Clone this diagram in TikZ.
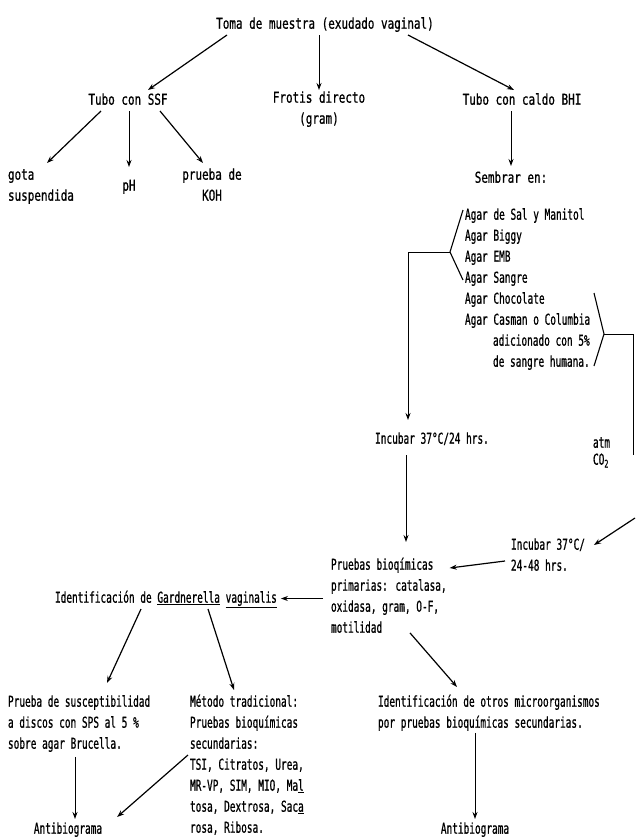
\documentclass[tikz,border=0pt]{standalone}
\usepackage{fontspec}
\newfontfamily\twfont[FakeStretch=0.63,FakeBold=0.8]{DejaVu Sans Mono}
\newfontfamily\twwide[FakeStretch=0.73,FakeBold=0.8]{DejaVu Sans Mono}
\usetikzlibrary{arrows.meta}
\tikzset{
 txt/.style={inner sep=0pt, outer sep=0pt, font=\twfont\fontsize{15}{21}\selectfont},
 wide/.style={font=\twwide\fontsize{15}{21}\selectfont},
 ctr/.style={txt, align=center, anchor=north},
 lft/.style={txt, align=left, anchor=north west},
 arr/.style={line width=1.2pt, -{Stealth[length=7pt,width=5pt]}},
 varr/.style={line width=0.9pt, -{Stealth[length=7pt,width=5pt]}},
 ln/.style={line width=1.1pt},
 vln/.style={line width=0.9pt},
}
\begin{document}
\begin{tikzpicture}[x=1pt,y=-1pt]
\useasboundingbox (0,0) rectangle (635,838);
% nodes
\node[ctr,wide] (toma) at (325,14) {\strut Toma de muestra (exudado vaginal)};
\node[ctr,wide] (ssf) at (128,90) {\strut Tubo con SSF};
\node[ctr,wide] (frotis) at (319,88) {\strut Frotis directo\\(gram)};
\node[ctr,wide] (bhi) at (522,90) {\strut Tubo con caldo BHI};
\node[lft,wide] (gota) at (8,165) {\strut gota\\suspendida};
\node[ctr,wide] (ph) at (129,176) {\strut pH};
\node[ctr,wide] (koh) at (212,165) {\strut prueba de\\KOH};
\node[ctr,wide] (sembrar) at (511,168) {\strut Sembrar en:};
\node[lft] (agar) at (465,205) {\strut Agar de Sal y Manitol\\Agar Biggy\\Agar EMB\\Agar Sangre\\Agar Chocolate\\Agar Casman o Columbia\\\hspace*{28pt}adicionado con 5\%\\\hspace*{28pt}de sangre humana.};
\node[ctr] (inc24) at (432,429) {\strut Incubar 37°C/24 hrs.};
\node[lft] (atm) at (593,433) {\strut atm\\[-4pt]CO\textsubscript{2}};
\node[lft] (inc48) at (511,535) {\strut Incubar 37°C/\\24-48 hrs.};
\node[lft] (pruebas) at (331,555) {\strut Pruebas bioqímicas\\primarias: catalasa,\\oxidasa, gram, O-F,\\motilidad};
\node[lft] (gard) at (55,588) {\strut Identificación de \underline{Gardnerella} \underline{vaginalis}};
\node[lft] (sus) at (8,692) {\strut Prueba de susceptibilidad\\a discos con SPS al 5 \%\\sobre agar Brucella.};
\node[lft] (metodo) at (190,692) {\strut Método tradicional:\\Pruebas bioquímicas\\secundarias:\\TSI, Citratos, Urea,\\MR-VP, SIM, MIO, Ma\underline{l}\\tosa, Dextrosa, Sac\underline{a}\\rosa, Ribosa.};
\node[lft] (otros) at (378,692) {\strut Identificación de otros microorganismos\\por pruebas bioquímicas secundarias.};
\node[ctr] (anti1) at (68,819) {\strut Antibiograma};
\node[ctr] (anti2) at (475,819) {\strut Antibiograma};
% connectors
\draw[arr] ([xshift=-98pt]toma.south) -- ([xshift=20pt]ssf.north);
\draw[varr] (toma.south -| frotis.north) -- ([yshift=-2pt]frotis.north);
\draw[arr] ([xshift=83pt]toma.south) -- ([xshift=-8pt]bhi.north);
\draw[arr] ([xshift=-27pt]ssf.south) -- ([xshift=39pt,yshift=2pt]gota.north west);
\draw[varr] (ssf.south -| ph.north) -- ([yshift=9pt]ph.north);
\draw[arr] ([xshift=32pt]ssf.south) -- ([xshift=-9pt,yshift=2pt]koh.north);
\draw[varr] (bhi.south -| sembrar.north) -- ([yshift=2pt]sembrar.north);
% left bracket
\coordinate (lb) at (450,252);
\coordinate (lc) at (408,252);
\draw[ln] ([xshift=-2pt,yshift=-5pt]agar.north west) -- (lb) -- ([xshift=-2pt,yshift=-75pt]agar.north west);
\draw[varr, shorten >=9pt] (lb) -- (lc) -- (lc |- inc24.north);
% right bracket
\coordinate (ru) at (594,293);
\coordinate (rb) at (604,334);
\coordinate (rl) at (594,366);
\coordinate (rc) at (633,334);
\coordinate (rd) at (633,455);
\coordinate (re) at (635,518);
\draw[ln] (ru) -- (rb) -- (rl);
\draw[vln] (rb) -- (rc) -- (rd);
\draw[arr] (re) -- ([xshift=9pt,yshift=-10pt]inc48.north east);
\draw[arr] ([xshift=-6pt,yshift=-26pt]inc48.north west) -- ([xshift=3pt,yshift=-13pt]pruebas.north east);
\coordinate (vx) at (406,0);
\draw[varr, shorten <=5pt, shorten >=13pt] (vx |- inc24.south) -- (vx |- pruebas.north);
\draw[arr, shorten <=8pt, shorten >=4pt] (pruebas.west |- gard.east) -- (gard.east);
\draw[arr] ([xshift=86pt]gard.south west) -- ([xshift=99pt,yshift=9pt]sus.north west);
\draw[arr] ([xshift=153pt]gard.south west) -- ([xshift=44pt,yshift=2pt]metodo.north west);
\draw[arr] ([xshift=79pt]pruebas.south west) -- ([xshift=79pt,yshift=5pt]otros.north west);
\draw[varr, shorten <=5pt] ([xshift=67pt]sus.south west) -- ([xshift=7pt]anti1.north);
\draw[arr] ([xshift=-2pt,yshift=-63pt]metodo.north west) -- ([xshift=15pt,yshift=2pt]anti1.north east);
\draw[varr, shorten <=2pt] (otros.south -| anti2.north) -- (anti2.north);
\end{tikzpicture}
\end{document}
